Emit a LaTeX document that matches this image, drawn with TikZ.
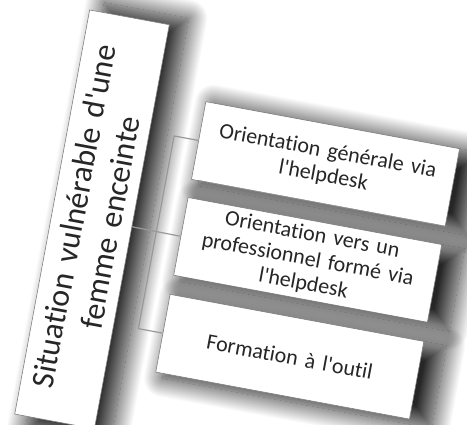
\documentclass[tikz,border=0pt]{standalone}
\usepackage{fontspec}
\setmainfont{Carlito}[Ligatures = {TeXOff, NoCommon}]
\usetikzlibrary{shadows.blur}

\tikzset{
  box/.style = {draw = black!50, fill = white, line width = 0.6pt, align = center, text = black!85,
    blur shadow = {shadow xshift = 14pt, shadow yshift = -5pt, shadow blur radius = 18pt, shadow blur steps = 30, shadow scale = 1.06, shadow opacity = 85}},
  sidebox/.style = {box, minimum width = 258pt, minimum height = 79pt, text width = 250pt, font = \fontsize{22}{25}\selectfont},
  tallbox/.style = {box, rotate = 90, minimum width = 411pt, minimum height = 81pt, text width = 400pt, font = \fontsize{32}{37}\selectfont},
  link/.style = {draw = black!40, line width = 1.2pt}
}

\begin{document}
\begin{tikzpicture}[x = 1pt, y = 1pt]
\useasboundingbox (0,0) rectangle (467,425);

\begin{scope}[shift = {(90,417)}, rotate = -10.5, transform shape]
\node[tallbox] (situation) at (40.5,-207.5) {Situation vulnérable d'une\\femme enceinte};

\node[sidebox] (orienta) at (260,-110.5) {Orientation générale via\\l'helpdesk};
\node[sidebox] (orientb) at (260,-208) {Orientation vers un\\professionnel formé via\\l'helpdesk};
\node[sidebox] (formation) at (260,-306.5) {Formation à l'outil};

% bracket
\coordinate (bartop) at (106,-110.5);
\coordinate (barbot) at (106,-306.5);
\draw[link] (situation.south) -- (orientb.west);
\draw[link] (orienta.west) -- (bartop) -- (barbot) -- (formation.west);
\end{scope}
\end{tikzpicture}
\end{document}
